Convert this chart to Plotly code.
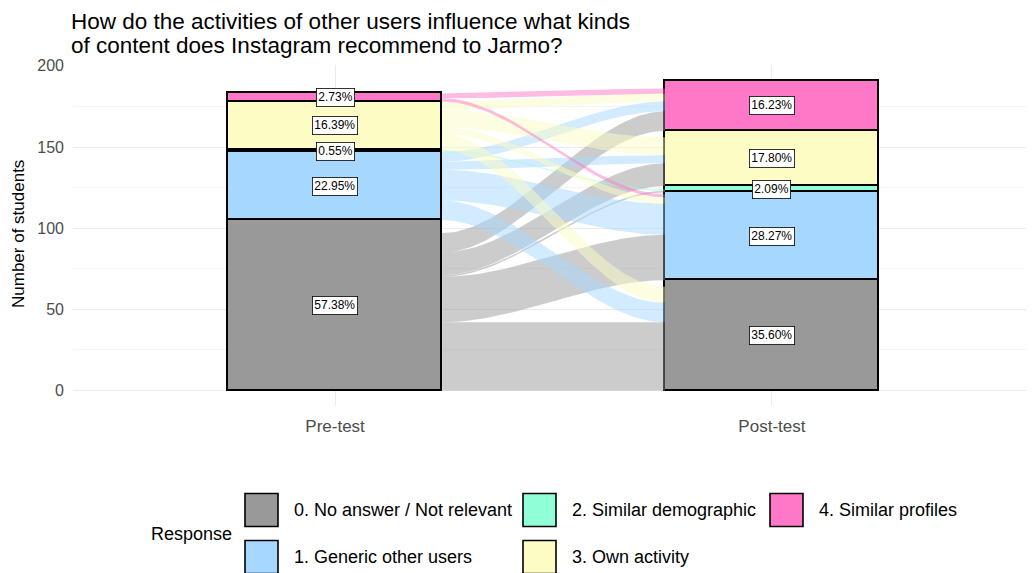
import numpy as np
import plotly.graph_objects as go

# ---------------- data ----------------
categories = ["0. No answer / Not relevant", "1. Generic other users",
              "2. Similar demographic", "3. Own activity", "4. Similar profiles"]
colors = ["#999999", "#A6D8FF", "#90FFD8", "#FCFCC4", "#FF78C8"]
flow_rgba = ["rgba(153,153,153,0.5)", "rgba(166,216,255,0.5)", "rgba(144,255,216,0.5)",
             "rgba(252,252,196,0.5)", "rgba(255,120,200,0.5)"]
test_labels = ["Pre-test", "Post-test"]
pre_counts = [105, 42, 1, 30, 5]
post_counts = [68, 54, 4, 34, 31]
# paired flows: row = pre-test response, column = post-test response
flow_from_0 = [42, 28, 1, 14, 12]
flow_from_1 = [12, 19, 0, 5, 6]
flow_from_2 = [0, 0, 1, 0, 0]
flow_from_3 = [10, 4, 0, 11, 5]
flow_from_4 = [0, 2, 0, 0, 3]
flows = [flow_from_0, flow_from_1, flow_from_2, flow_from_3, flow_from_4]

title_lines = ["How do the activities of other users influence what kinds",
               "of content does Instagram recommend to Jarmo?"]
y_title = "Number of students"
legend_title = "Response"

# ---------------- layout constants ----------------
OFF = 8                      # page body margin
W, H = 1026, 565
ML, MR, MT, MB = 65, 0, 57, 167
BAR_W = 0.49
FONT = "Liberation Sans, Arial, sans-serif"

plot_w = W - ML - MR
plot_h = H - MT - MB


def px_x(px):
    return (px - OFF - ML) / plot_w


def px_y(py):
    return (OFF + H - MB - py) / plot_h


fig = go.Figure()

# ---------------- flows ----------------
n = len(categories)
pre_base = np.concatenate([[0], np.cumsum(pre_counts)[:-1]])
post_base = np.concatenate([[0], np.cumsum(post_counts)[:-1]])

left_lo = np.zeros((n, n))
for i in range(n):
    run = pre_base[i]
    for j in range(n):
        left_lo[i][j] = run
        run += flows[i][j]
right_lo = np.zeros((n, n))
for j in range(n):
    run = post_base[j]
    for i in range(n):
        right_lo[i][j] = run
        run += flows[i][j]

x0, x1 = 1 + BAR_W / 2, 2 - BAR_W / 2
t = np.linspace(0, 1, 60)
s = t * t * (3 - 2 * t)
xs = x0 + (x1 - x0) * t
for i in range(n):
    for j in range(n):
        v = flows[i][j]
        if v <= 0:
            continue
        yl = left_lo[i][j] + (right_lo[i][j] - left_lo[i][j]) * s
        yu = yl + v
        fig.add_trace(go.Scatter(
            x=np.concatenate([xs, xs[::-1]]),
            y=np.concatenate([yl, yu[::-1]]),
            fill="toself", fillcolor=flow_rgba[i], mode="lines",
            line=dict(width=0), hoverinfo="skip", showlegend=False))

# ---------------- strata (bars) ----------------
for k in range(n):
    fig.add_trace(go.Bar(
        x=[1, 2], y=[pre_counts[k], post_counts[k]], width=BAR_W,
        marker=dict(color=colors[k], line=dict(color="black", width=1.6)),
        name=categories[k], showlegend=False))

# ---------------- percentage labels ----------------
annotations = []
for col, counts in enumerate([pre_counts, post_counts]):
    total = sum(counts)
    base = 0
    for k in range(n):
        mid = base + counts[k] / 2
        annotations.append(dict(
            x=col + 1, y=mid, xref="x", yref="y",
            text=f"{100 * counts[k] / total:.2f}%", showarrow=False,
            font=dict(size=12, color="black", family=FONT),
            bgcolor="white", bordercolor="black", borderwidth=0.8, borderpad=1.5))
        base += counts[k]

# ---------------- title & axis title ----------------
for li, (line, cy) in enumerate(zip(title_lines, [22, 45])):
    annotations.append(dict(
        x=px_x(69), y=px_y(cy), xref="paper", yref="paper", xanchor="left", yanchor="middle",
        text=line, showarrow=False, align="left",
        font=dict(size=22.5, color="black", family=FONT)))
annotations.append(dict(
    x=px_x(18), y=px_y(234), xref="paper", yref="paper", textangle=-90,
    xanchor="center", yanchor="middle",
    text=y_title, showarrow=False, font=dict(size=17, color="black", family=FONT)))

# ---------------- legend (manual) ----------------
shapes = []
annotations.append(dict(
    x=px_x(149), y=px_y(534), xref="paper", yref="paper", xanchor="left", yanchor="middle",
    text=legend_title, showarrow=False, font=dict(size=18, color="black", family=FONT)))
col_x = [245, 523, 770]
row_y = [510, 557]
for k in range(n):
    c, r = k // 2, k % 2
    sx, sy = col_x[c], row_y[r]
    shapes.append(dict(
        type="rect", xref="paper", yref="paper",
        x0=px_x(sx), x1=px_x(sx + 33), y0=px_y(sy - 16.5), y1=px_y(sy + 16.5),
        fillcolor=colors[k], line=dict(color="black", width=1.6)))
    annotations.append(dict(
        x=px_x(sx + 47), y=px_y(sy), xref="paper", yref="paper",
        xanchor="left", yanchor="middle",
        text=categories[k], showarrow=False,
        font=dict(size=18, color="black", family=FONT)))

fig.update_layout(
    width=W, height=H, margin=dict(l=ML, r=MR, t=MT, b=MB),
    barmode="stack", bargap=0,
    plot_bgcolor="white", paper_bgcolor="white",
    font=dict(family=FONT),
    annotations=annotations, shapes=shapes,
    xaxis=dict(range=[0.4, 2.6], tickvals=[1, 2], ticktext=test_labels,
               showgrid=True, gridcolor="#EBEBEB", gridwidth=1, zeroline=False,
               showline=False, ticks="", tickfont=dict(size=17, color="#4D4D4D"),
               ticklabelstandoff=8),
    yaxis=dict(range=[-9.55, 200.55], tickvals=[0, 50, 100, 150, 200],
               showgrid=True, gridcolor="#EBEBEB", gridwidth=1, zeroline=False,
               showline=False, ticks="", tickfont=dict(size=16, color="#4D4D4D"),
               ticklabelstandoff=8,
               minor=dict(tickvals=[25, 75, 125, 175], showgrid=True,
                          gridcolor="#F5F5F5", gridwidth=1)),
)

fig.write_html("out.html")
